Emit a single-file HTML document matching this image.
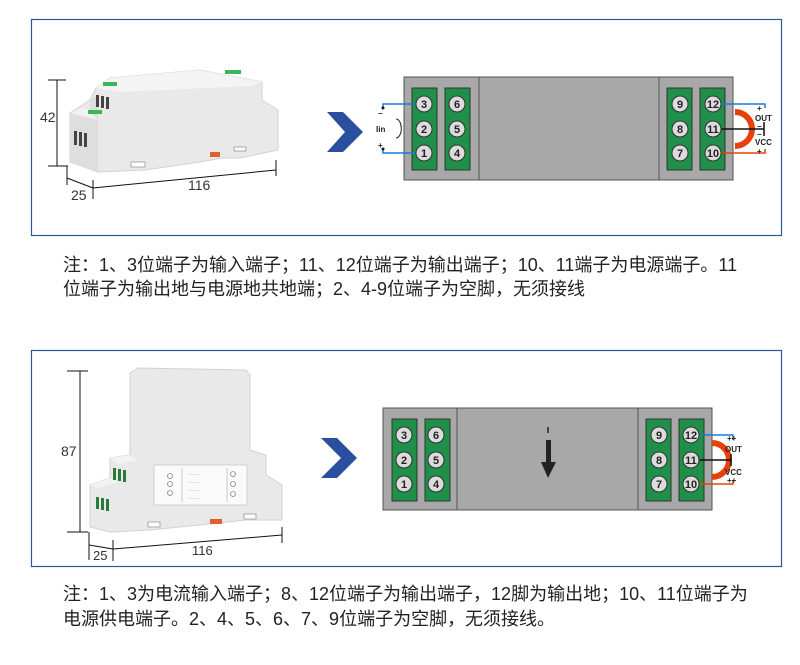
<!DOCTYPE html>
<html><head><meta charset="utf-8"><style>
html,body{margin:0;padding:0;background:#fff;}
body{width:800px;height:665px;position:relative;overflow:hidden;font-family:"Liberation Sans","Noto Sans CJK SC",sans-serif;}
.note{position:absolute;left:63px;font-size:18px;color:#222;white-space:nowrap;line-height:25px;font-family:"Liberation Sans","Noto Sans CJK SC",sans-serif;}
</style></head><body>
<svg width="800" height="665" style="position:absolute;left:0;top:0" font-family="Liberation Sans, sans-serif">
<rect x="31.5" y="19.5" width="750" height="216" fill="none" stroke="#2b579a" stroke-width="1.2"/>
<rect x="31.5" y="350.5" width="750" height="216" fill="none" stroke="#2b579a" stroke-width="1.2"/>

<!-- product 1 -->
<g>
<polygon points="96,88 110,78 200,70 262,82 262,100 278,110 278,150 240,158 222,158 200,162 145,170 98,172 70,162 70,113 90,100" fill="#e9e9e9" stroke="#d2d2d2" stroke-width="1"/>
<polygon points="96,88 110,78 200,70 262,82 250,86 120,92" fill="#f4f4f4"/>
<polygon points="70,113 82,108 98,112 98,120" fill="#f2f2f2"/>
<polygon points="70,113 98,120 98,172 70,162" fill="#dedede"/>
<polygon points="90,100 98,95 98,120 90,112" fill="#dcdcdc"/>
<rect x="103" y="82" width="14" height="4" fill="#3cb45a"/>
<rect x="88" y="110" width="14" height="4" fill="#3cb45a"/>
<rect x="225" y="70" width="16" height="4" fill="#3cb45a"/>
<rect x="96" y="95" width="3" height="12" fill="#444"/><rect x="101" y="96" width="3" height="12" fill="#444"/><rect x="106" y="97" width="3" height="12" fill="#444"/>
<rect x="74" y="131" width="3" height="14" fill="#444"/><rect x="79" y="132" width="3" height="14" fill="#444"/><rect x="84" y="133" width="3" height="14" fill="#444"/>
<rect x="131" y="162" width="14" height="5" fill="#fff" stroke="#999" stroke-width="0.8"/>
<rect x="234" y="147" width="12" height="4" fill="#fff" stroke="#999" stroke-width="0.8"/>
<rect x="210" y="152" width="10" height="5" fill="#e06030"/>
</g>
<g stroke="#111" stroke-width="1" fill="none">
<line x1="48" y1="80" x2="66" y2="80"/><line x1="57" y1="80" x2="57" y2="166"/><line x1="48" y1="166" x2="68" y2="166"/>
<line x1="67" y1="166" x2="67" y2="185"/><line x1="67" y1="178" x2="93" y2="188"/><line x1="93" y1="180" x2="93" y2="199"/>
<line x1="93" y1="188" x2="276" y2="170"/><line x1="276" y1="160" x2="276" y2="176"/>
</g>
<text x="40" y="122" font-size="14" fill="#333">42</text>
<text x="71" y="200" font-size="14" fill="#333">25</text>
<text x="188" y="190" font-size="14" fill="#333">116</text>

<!-- product 2 -->
<g>
<polygon points="130,373 138,368 246,370 250,375 250,450 266,455 266,475 282,485 282,520 246,520 200,525 150,530 110,532 90,527 90,485 110,478 110,458 130,455" fill="#e9e9e9" stroke="#d2d2d2" stroke-width="1"/>
<polygon points="110,458 130,455 138,460 118,464" fill="#f3f3f3"/>
<polygon points="90,485 110,478 118,482 98,488" fill="#f3f3f3"/>
<rect x="154" y="465" width="93" height="40" fill="#fafafa" stroke="#bbb" stroke-width="0.6"/>
<line x1="182" y1="468" x2="182" y2="502" stroke="#999" stroke-width="0.5"/>
<line x1="227" y1="468" x2="227" y2="502" stroke="#999" stroke-width="0.5"/>
<g font-size="4" fill="#666"><text x="188" y="476">··········</text><text x="188" y="484">··········</text><text x="188" y="492">··········</text><text x="188" y="500">··········</text></g>
<circle cx="170" cy="476" r="2.5" fill="none" stroke="#666" stroke-width="0.6"/><circle cx="170" cy="484" r="2.5" fill="none" stroke="#666" stroke-width="0.6"/><circle cx="170" cy="493" r="2.5" fill="none" stroke="#666" stroke-width="0.6"/>
<circle cx="233" cy="474" r="2.5" fill="none" stroke="#666" stroke-width="0.6"/><circle cx="233" cy="484" r="2.5" fill="none" stroke="#666" stroke-width="0.6"/><circle cx="233" cy="494" r="2.5" fill="none" stroke="#666" stroke-width="0.6"/>
<rect x="113" y="468" width="3" height="12" fill="#2a7a3a"/><rect x="118" y="469" width="3" height="12" fill="#2a7a3a"/><rect x="123" y="470" width="3" height="12" fill="#2a7a3a"/>
<rect x="96" y="497" width="3" height="12" fill="#2a7a3a"/><rect x="101" y="498" width="3" height="12" fill="#2a7a3a"/><rect x="106" y="499" width="3" height="12" fill="#2a7a3a"/>
<rect x="148" y="522" width="12" height="5" fill="#fff" stroke="#999" stroke-width="0.8"/>
<rect x="244" y="514" width="12" height="5" fill="#fff" stroke="#999" stroke-width="0.8"/>
<rect x="210" y="519" width="12" height="5" fill="#e06030"/>
</g>
<g stroke="#111" stroke-width="1" fill="none">
<line x1="67" y1="371" x2="88" y2="371"/><line x1="80" y1="371" x2="80" y2="532"/><line x1="67" y1="532" x2="88" y2="532"/>
<line x1="89" y1="532" x2="89" y2="560"/><line x1="89" y1="545" x2="113" y2="549"/><line x1="113" y1="540" x2="113" y2="561"/>
<line x1="113" y1="549" x2="282" y2="535"/><line x1="282" y1="527" x2="282" y2="543"/>
</g>
<text x="61" y="456" font-size="14" fill="#333">87</text>
<text x="93" y="560" font-size="13" fill="#333">25</text>
<text x="192" y="555" font-size="13" fill="#333">116</text>

<!-- chevrons -->
<polygon points="327,112 343,112 363,132 343,152 327,152 345,132" fill="#2a4f9e"/>
<polygon points="321,438 337,438 357,458 337,478 321,478 341,458" fill="#2a4f9e"/>

<!-- diagram 1 -->
<g stroke="#555" stroke-width="1">
<rect x="404" y="77" width="329" height="103" fill="#a8a8a8"/>
<line x1="479" y1="77" x2="479" y2="180"/><line x1="659" y1="77" x2="659" y2="180"/>
</g>
<path d="M735,112 A17,17 0 0 1 735,146" fill="none" stroke="#e8400c" stroke-width="6"/>
<g fill="#1f8f4a" stroke="#333" stroke-width="1">
<rect x="412" y="88" width="25" height="82"/><rect x="445" y="88" width="25" height="82"/>
<rect x="667" y="88" width="25" height="82"/><rect x="700" y="88" width="25" height="82"/>
</g>
<g stroke="#1a7ad4" stroke-width="1.5" fill="none">
<polyline points="419,104 383,104 383,108"/><polyline points="419,153 383,153 383,149"/>
<polyline points="720,104 765,104 765,108"/>
</g>
<polyline points="720,129 764,129" stroke="#111" stroke-width="1.5" fill="none"/>
<line x1="764" y1="122" x2="764" y2="136" stroke="#111" stroke-width="1.5"/>
<polyline points="720,153 765,153 765,149" stroke="#e8400c" stroke-width="1.5" fill="none"/>
<g fill="#dcdcdc" stroke="#333" stroke-width="1">
<circle cx="424" cy="104" r="8"/><circle cx="424" cy="129" r="8"/><circle cx="424" cy="153" r="8"/>
<circle cx="457" cy="104" r="8"/><circle cx="457" cy="129" r="8"/><circle cx="457" cy="153" r="8"/>
<circle cx="680" cy="104" r="8"/><circle cx="680" cy="129" r="8"/><circle cx="680" cy="153" r="8"/>
<circle cx="713" cy="104" r="8"/><circle cx="713" cy="129" r="8"/><circle cx="713" cy="153" r="8"/>
</g>
<g font-size="11" font-weight="bold" fill="#222" text-anchor="middle">
<text x="424" y="108">3</text><text x="424" y="133">2</text><text x="424" y="157">1</text>
<text x="457" y="108">6</text><text x="457" y="133">5</text><text x="457" y="157">4</text>
<text x="680" y="108">9</text><text x="680" y="133">8</text><text x="680" y="157">7</text>
<text x="713" y="108">12</text><text x="713" y="133">11</text><text x="713" y="157">10</text>
</g>
<g font-size="8" font-weight="bold" fill="#222">
<text x="378" y="116">−</text><text x="378" y="148">+</text>
<text x="376" y="132">Iin</text>
<text x="757" y="111">+</text><text x="755" y="121">OUT</text><text x="757" y="129">−</text><text x="757" y="137">−</text><text x="755" y="145">VCC</text><text x="757" y="154">+</text>
</g>
<path d="M396,119 A5,9 0 0 1 396,138" fill="none" stroke="#222" stroke-width="1"/>
<circle cx="383" cy="108" r="1.5" fill="#111"/><circle cx="383" cy="149" r="1.5" fill="#111"/>

<!-- diagram 2 -->
<g stroke="#555" stroke-width="1">
<rect x="383" y="408" width="329" height="102" fill="#a8a8a8"/>
<line x1="457" y1="408" x2="457" y2="510"/><line x1="638" y1="408" x2="638" y2="510"/>
</g>
<path d="M712,443 A17,17 0 0 1 712,477" fill="none" stroke="#e8400c" stroke-width="6"/>
<g fill="#1f8f4a" stroke="#333" stroke-width="1">
<rect x="392" y="419" width="25" height="82"/><rect x="425" y="419" width="25" height="82"/>
<rect x="646" y="419" width="25" height="82"/><rect x="679" y="419" width="25" height="82"/>
</g>
<polyline points="698,435 733,435 733,440" stroke="#1a7ad4" stroke-width="1.5" fill="none"/>
<polyline points="698,460 731,460" stroke="#111" stroke-width="1.5" fill="none"/>
<line x1="731" y1="454" x2="731" y2="466" stroke="#111" stroke-width="1.5"/>
<polyline points="698,484 733,484 733,480" stroke="#e8400c" stroke-width="1.5" fill="none"/>
<g fill="#dcdcdc" stroke="#333" stroke-width="1">
<circle cx="404" cy="435" r="8"/><circle cx="404" cy="460" r="8"/><circle cx="404" cy="484" r="8"/>
<circle cx="436" cy="435" r="8"/><circle cx="436" cy="460" r="8"/><circle cx="436" cy="484" r="8"/>
<circle cx="659" cy="435" r="8"/><circle cx="659" cy="460" r="8"/><circle cx="659" cy="484" r="8"/>
<circle cx="691" cy="435" r="8"/><circle cx="691" cy="460" r="8"/><circle cx="691" cy="484" r="8"/>
</g>
<g font-size="11" font-weight="bold" fill="#222" text-anchor="middle">
<text x="404" y="439">3</text><text x="404" y="464">2</text><text x="404" y="488">1</text>
<text x="436" y="439">6</text><text x="436" y="464">5</text><text x="436" y="488">4</text>
<text x="659" y="439">9</text><text x="659" y="464">8</text><text x="659" y="488">7</text>
<text x="691" y="439">12</text><text x="691" y="464">11</text><text x="691" y="488">10</text>
</g>
<g font-size="8" font-weight="bold" fill="#222">
<text x="727" y="441">++</text><text x="725" y="452">OUT</text><text x="725" y="475">VCC</text><text x="727" y="483">++</text>
</g>
<line x1="548" y1="427" x2="548" y2="433" stroke="#222" stroke-width="1.5"/>
<rect x="546" y="440" width="5" height="22" fill="#222"/>
<polygon points="541,462 556,462 548,478" fill="#222"/>
</svg>
<div class="note" style="top:253px">注：1、3位端子为输入端子；11、12位端子为输出端子；10、11端子为电源端子。11</div>
<div class="note" style="top:277px">位端子为输出地与电源地共地端；2、4-9位端子为空脚，无须接线</div>
<div class="note" style="top:582px">注：1、3为电流输入端子；8、12位端子为输出端子，12脚为输出地；10、11位端子为</div>
<div class="note" style="top:607px">电源供电端子。2、4、5、6、7、9位端子为空脚，无须接线。</div>
</body></html>
